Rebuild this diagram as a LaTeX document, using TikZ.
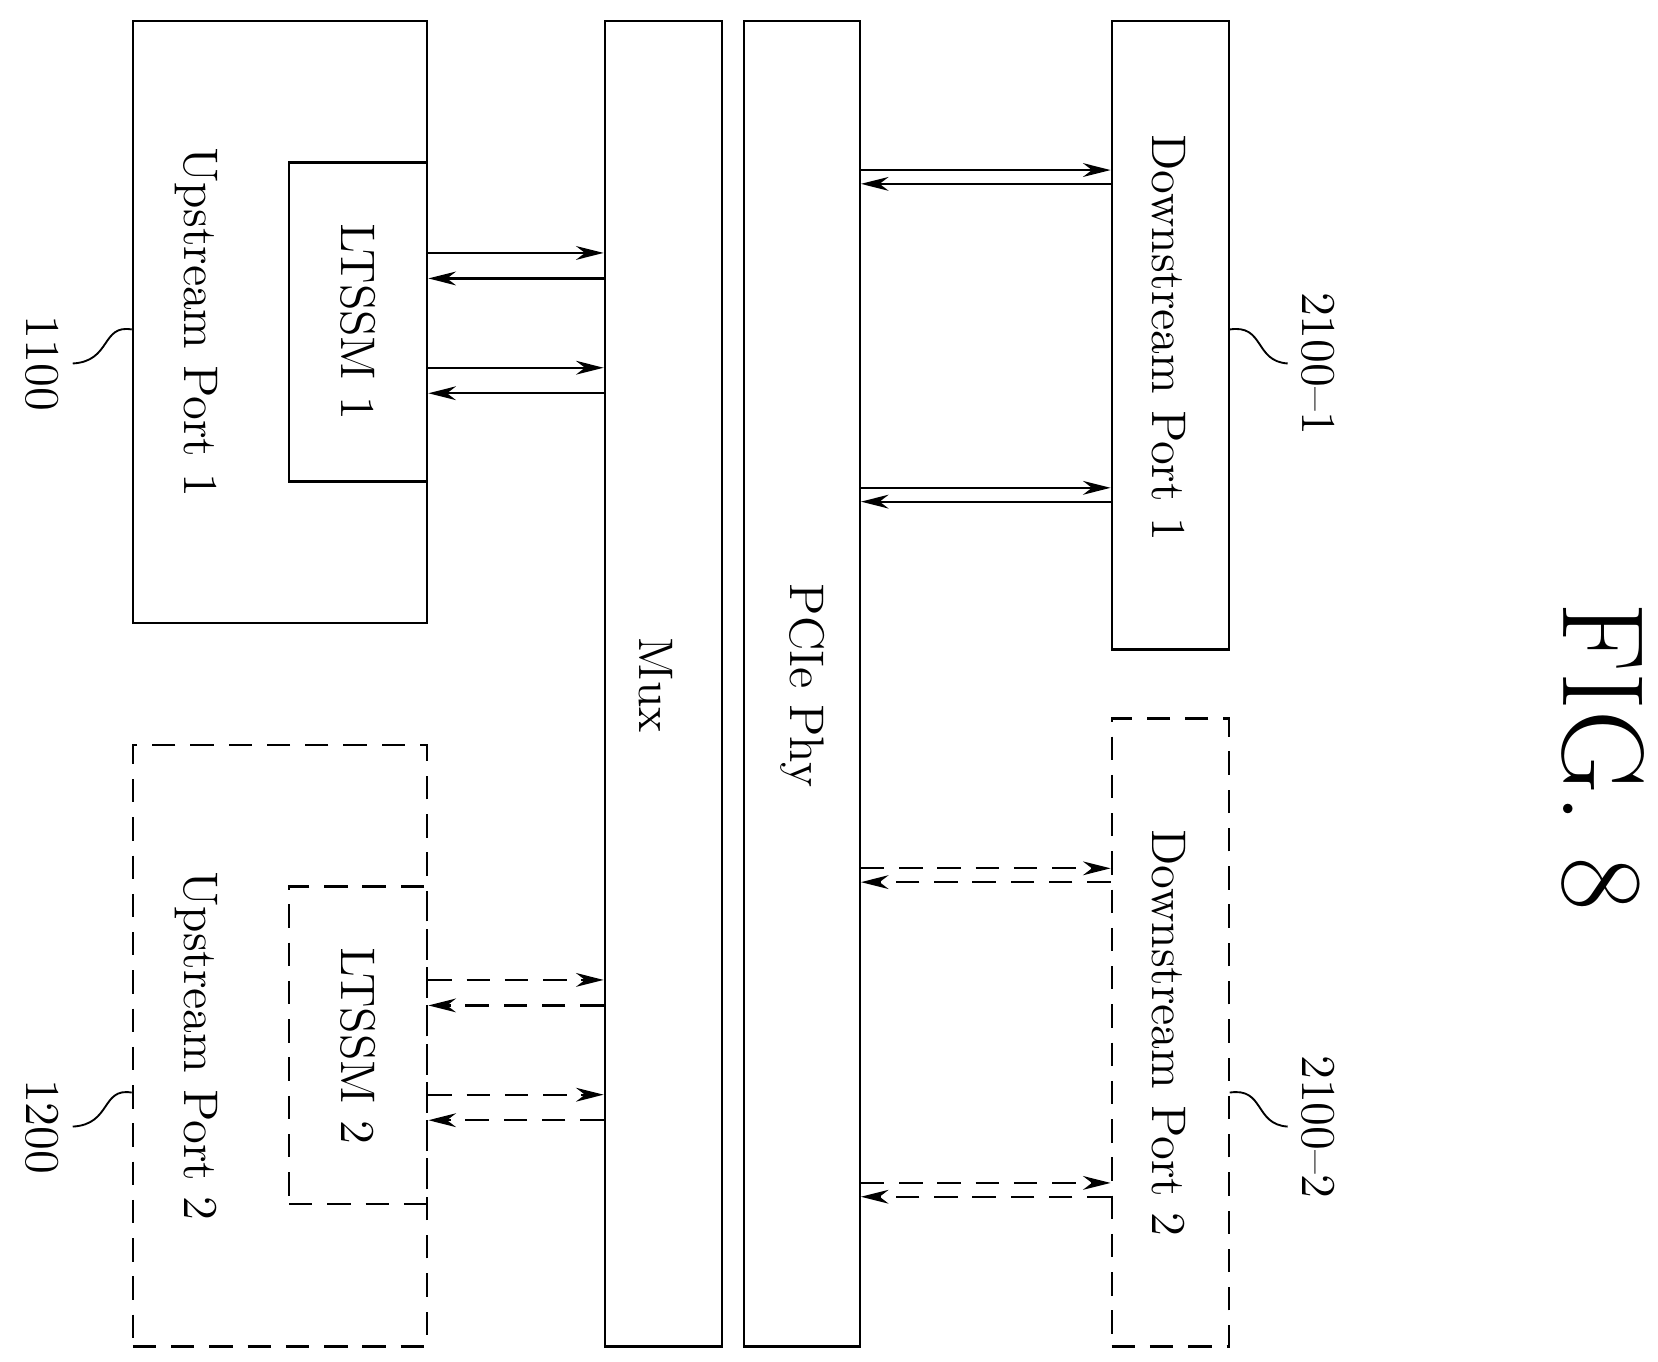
\documentclass[tikz,border=0pt]{standalone}
\usepackage{tikz}
\usetikzlibrary{arrows.meta}
\begin{document}
\begin{tikzpicture}[x=0.1mm,y=-0.1mm,line width=0.6pt,
    box/.style={draw,inner sep=0pt},
    opt/.style={dashed,dash pattern=on 2.2mm off 1.4mm},
    txt/.style={rotate=-90,font=\fontsize{13}{15}\selectfont},
    ref/.style={rotate=-90,font=\fontsize{13}{15}\selectfont},
    link/.style={-{Stealth[length=2.6mm,width=1.3mm]}},
    lead/.style={line width=0.5pt}]
  \useasboundingbox (0,0) rectangle (1560,1281);
  % boxes: name/x1/y1/x2/y2/style
  \foreach \n/\xa/\ya/\xb/\yb/\s in {%
      up1/125/20/402/586/solid, lt1/272/153/402/453/solid,
      up2/125/701/402/1267/opt, lt2/272/834/402/1133/opt,
      mux/569/20/679/1267/solid, phy/700/20/809/1267/solid,
      dn1/1046/20/1156/611/solid, dn2/1046/676/1156/1267/opt}
    \node[box,\s,minimum width={(\xb-\xa)*0.1mm},minimum height={(\yb-\ya)*0.1mm}]
      (\n) at ({(\xa+\xb)/2},{(\ya+\yb)/2}) {};
  \node[txt] (up1t) at (185,303) {Upstream Port 1};
  \node[txt] (lt1t) at (337,303) {LTSSM 1};
  \node[txt] (up2t) at (185,984) {Upstream Port 2};
  \node[txt] (lt2t) at (337,984) {LTSSM 2};
  \node[txt] (muxt) at (617,645) {Mux};
  \node[txt] (phyt) at (755,645) {PCIe Phy};
  \node[txt] (dn1t) at (1100,318) {Downstream Port 1};
  \node[txt] (dn2t) at (1100,972) {Downstream Port 2};
  \node[rotate=-90,font=\fontsize{31}{34}\selectfont] (fig) at (1508,712) {FIG. 8};
  % left connectors
  \foreach \y/\s in {238/solid,346/solid,922/opt,1030/opt} {
    \draw[link,\s] (lt1.east|-0,\y) -- (mux.west|-0,\y);
    \draw[link,\s] (mux.west|-0,\y+24) -- (lt1.east|-0,\y+24);
  }
  % right connectors
  \foreach \y/\s in {160/solid,459/solid,817/opt,1113/opt} {
    \draw[link,\s] (phy.east|-0,\y) -- (dn1.west|-0,\y);
    \draw[link,\s] (dn1.west|-0,\y+13) -- (phy.east|-0,\y+13);
  }
  % reference numerals
  \node[ref] (r1100) at (40,342) {1100};
  \node[ref] (r1200) at (40,1060) {1200};
  \node[ref] (r2101) at (1240,342) {2100--1};
  \node[ref] (r2102) at (1240,1060) {2100--2};
  \draw[lead] (up1.west|-0,310) .. controls (95,305) and (105,340) .. (r1100.north);
  \draw[lead] (up2.west|-0,1028) .. controls (95,1023) and (105,1058) .. (r1200.north);
  \draw[lead] (dn1.east|-0,310) .. controls (1190,305) and (1180,340) .. (r2101.south);
  \draw[lead] (dn2.east|-0,1028) .. controls (1190,1023) and (1180,1058) .. (r2102.south);
\end{tikzpicture}
\end{document}
